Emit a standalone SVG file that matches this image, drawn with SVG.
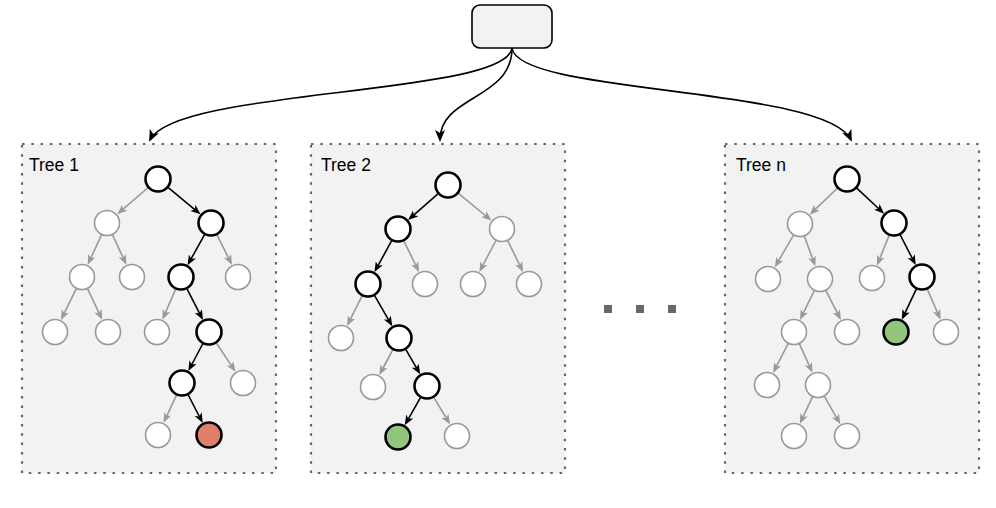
<svg xmlns="http://www.w3.org/2000/svg" width="996" height="508" viewBox="0 0 996 508">
  <defs>
    <style>
      .frame { fill: #f2f2f2; stroke: #666666; stroke-width: 2.2; stroke-dasharray: 2.5 6.8; }
      .label { font-family: "Liberation Sans", Arial, sans-serif; font-size: 17.5px; fill: #000000; }
      .n-on { fill: #ffffff; stroke: #000000; stroke-width: 2.6; }
      .n-off { fill: #ffffff; stroke: #999999; stroke-width: 1.6; }
      .leaf-red { fill: #e07e6b; stroke: #000000; stroke-width: 2.6; }
      .leaf-green { fill: #93c47d; stroke: #000000; stroke-width: 2.6; }
      .e-on { stroke: #000000; stroke-width: 1.6; fill: none; marker-end: url(#tipBlack); }
      .e-off { stroke: #999999; stroke-width: 1.6; fill: none; marker-end: url(#tipGray); }
      .feed { stroke: #000000; stroke-width: 1.6; fill: none; marker-end: url(#tipBig); }
    </style>
    <marker id="tipBlack" markerUnits="userSpaceOnUse" markerWidth="12" markerHeight="10" refX="6" refY="4" orient="auto">
      <path d="M0,0 L10,4 L0,8 L2.5,4 Z" fill="#000000"/>
    </marker>
    <marker id="tipGray" markerUnits="userSpaceOnUse" markerWidth="12" markerHeight="10" refX="6" refY="4" orient="auto">
      <path d="M0,0 L10,4 L0,8 L2.5,4 Z" fill="#999999"/>
    </marker>
    <marker id="tipBig" markerUnits="userSpaceOnUse" markerWidth="14" markerHeight="12" refX="10" refY="5" orient="auto">
      <path d="M0,0 L12,5 L0,10 L3,5 Z" fill="#000000"/>
    </marker>
  </defs>

  <!-- tree frames -->
  <g id="tree1-frame">
    <rect class="frame" x="22" y="144" width="254" height="329"/>
    <text class="label" x="29" y="171">Tree 1</text>
  </g>
  <g id="tree2-frame">
    <rect class="frame" x="311" y="144" width="254" height="329"/>
    <text class="label" x="321" y="171">Tree 2</text>
  </g>
  <g id="treen-frame">
    <rect class="frame" x="725" y="144" width="254" height="329"/>
    <text class="label" x="736" y="171">Tree n</text>
  </g>

  <!-- input box -->
  <g id="input">
    <rect x="472" y="5" width="80" height="43" rx="8" ry="8" fill="#f2f2f2" stroke="#000000" stroke-width="1.6"/>
  </g>

  <!-- ellipsis between trees -->
  <g id="ellipsis">
    <path d="M604,309 L676,309" stroke="#666666" stroke-width="8" stroke-dasharray="8 24"/>
  </g>

  <g id="connectors">
    <!-- input to each tree -->
    <path class="feed" d="M512,48 C506,96 175,88 150,140"/>
    <path class="feed" d="M512,48 C512,100 440,95 440,140"/>
    <path class="feed" d="M512,48 C518,95 826,86 851,140"/>

    <!-- tree 1 -->
    <line class="e-off" x1="148.2" y1="187.5" x2="120.2" y2="211.6"/>
    <line class="e-on" x1="168.0" y1="187.3" x2="197.5" y2="211.8"/>
    <line class="e-off" x1="101.5" y1="234.8" x2="89.4" y2="261.1"/>
    <line class="e-off" x1="112.5" y1="234.8" x2="124.7" y2="261.1"/>
    <line class="e-on" x1="204.7" y1="234.4" x2="189.5" y2="261.7"/>
    <line class="e-off" x1="216.8" y1="234.6" x2="230.2" y2="261.3"/>
    <line class="e-off" x1="76.3" y1="288.7" x2="62.7" y2="316.3"/>
    <line class="e-off" x1="87.6" y1="288.8" x2="100.5" y2="316.2"/>
    <line class="e-off" x1="175.8" y1="288.9" x2="164.0" y2="316.0"/>
    <line class="e-on" x1="186.9" y1="288.6" x2="201.1" y2="316.4"/>
    <line class="e-on" x1="202.9" y1="343.5" x2="190.2" y2="367.5"/>
    <line class="e-off" x1="216.2" y1="342.8" x2="233.3" y2="368.4"/>
    <line class="e-off" x1="176.6" y1="394.8" x2="165.3" y2="419.1"/>
    <line class="e-on" x1="188.0" y1="394.5" x2="200.9" y2="419.5"/>

    <!-- tree 2 -->
    <line class="e-on" x1="438.2" y1="193.6" x2="411.1" y2="217.4"/>
    <line class="e-off" x1="458.1" y1="193.2" x2="488.4" y2="218.0"/>
    <line class="e-on" x1="391.8" y1="240.4" x2="376.4" y2="268.6"/>
    <line class="e-off" x1="403.7" y1="240.7" x2="417.3" y2="268.3"/>
    <line class="e-off" x1="495.9" y1="240.5" x2="481.2" y2="268.5"/>
    <line class="e-off" x1="507.7" y1="240.7" x2="521.3" y2="268.3"/>
    <line class="e-off" x1="362.2" y1="295.6" x2="348.8" y2="322.4"/>
    <line class="e-on" x1="374.5" y1="295.3" x2="390.3" y2="322.8"/>
    <line class="e-off" x1="392.9" y1="349.5" x2="381.2" y2="371.5"/>
    <line class="e-on" x1="405.6" y1="349.2" x2="418.2" y2="370.9"/>
    <line class="e-on" x1="420.6" y1="397.3" x2="406.7" y2="421.8"/>
    <line class="e-off" x1="433.7" y1="397.1" x2="448.0" y2="421.0"/>

    <!-- tree n -->
    <line class="e-off" x1="837.6" y1="188.0" x2="812.6" y2="211.9"/>
    <line class="e-on" x1="856.5" y1="187.9" x2="881.2" y2="211.0"/>
    <line class="e-off" x1="793.5" y1="235.2" x2="776.8" y2="263.9"/>
    <line class="e-off" x1="804.4" y1="236.2" x2="814.0" y2="262.6"/>
    <line class="e-off" x1="889.2" y1="235.1" x2="878.5" y2="261.8"/>
    <line class="e-on" x1="900.0" y1="234.5" x2="913.9" y2="261.5"/>
    <line class="e-off" x1="814.3" y1="290.7" x2="801.7" y2="316.3"/>
    <line class="e-off" x1="825.9" y1="290.6" x2="839.1" y2="316.4"/>
    <line class="e-on" x1="916.4" y1="288.8" x2="903.5" y2="316.2"/>
    <line class="e-off" x1="927.2" y1="288.9" x2="939.0" y2="316.0"/>
    <line class="e-off" x1="788.1" y1="343.6" x2="774.9" y2="369.4"/>
    <line class="e-off" x1="799.4" y1="343.8" x2="810.8" y2="369.1"/>
    <line class="e-off" x1="812.5" y1="396.8" x2="801.5" y2="420.2"/>
    <line class="e-off" x1="824.4" y1="396.3" x2="838.4" y2="420.8"/>
  </g>

  <!-- tree 1 nodes -->
  <g id="t1-root"><circle class="n-on" cx="158" cy="179" r="12.5"/></g>
  <g id="t1-a"><circle class="n-off" cx="107" cy="223" r="12.5"/></g>
  <g id="t1-b"><circle class="n-on" cx="211" cy="223" r="12.5"/></g>
  <g id="t1-c"><circle class="n-off" cx="82" cy="277" r="12.5"/></g>
  <g id="t1-d"><circle class="n-off" cx="132" cy="277" r="12.5"/></g>
  <g id="t1-e"><circle class="n-on" cx="181" cy="277" r="12.5"/></g>
  <g id="t1-f"><circle class="n-off" cx="238" cy="277" r="12.5"/></g>
  <g id="t1-g"><circle class="n-off" cx="55" cy="332" r="12.5"/></g>
  <g id="t1-h"><circle class="n-off" cx="108" cy="332" r="12.5"/></g>
  <g id="t1-i"><circle class="n-off" cx="157" cy="332" r="12.5"/></g>
  <g id="t1-j"><circle class="n-on" cx="209" cy="332" r="12.5"/></g>
  <g id="t1-k"><circle class="n-on" cx="182" cy="383" r="12.5"/></g>
  <g id="t1-l"><circle class="n-off" cx="243" cy="383" r="12.5"/></g>
  <g id="t1-m"><circle class="n-off" cx="158" cy="435" r="12.5"/></g>
  <g id="t1-leaf"><circle class="leaf-red" cx="209" cy="435" r="12.5"/></g>

  <!-- tree 2 nodes -->
  <g id="t2-root"><circle class="n-on" cx="448" cy="185" r="12.5"/></g>
  <g id="t2-a"><circle class="n-on" cx="398" cy="229" r="12.5"/></g>
  <g id="t2-b"><circle class="n-off" cx="502" cy="229" r="12.5"/></g>
  <g id="t2-c"><circle class="n-on" cx="368" cy="284" r="12.5"/></g>
  <g id="t2-d"><circle class="n-off" cx="425" cy="284" r="12.5"/></g>
  <g id="t2-e"><circle class="n-off" cx="473" cy="284" r="12.5"/></g>
  <g id="t2-f"><circle class="n-off" cx="529" cy="284" r="12.5"/></g>
  <g id="t2-g"><circle class="n-off" cx="341" cy="338" r="12.5"/></g>
  <g id="t2-h"><circle class="n-on" cx="399" cy="338" r="12.5"/></g>
  <g id="t2-i"><circle class="n-off" cx="373" cy="387" r="12.5"/></g>
  <g id="t2-j"><circle class="n-on" cx="427" cy="386" r="12.5"/></g>
  <g id="t2-leaf"><circle class="leaf-green" cx="398" cy="437" r="12.5"/></g>
  <g id="t2-l"><circle class="n-off" cx="457" cy="436" r="12.5"/></g>

  <!-- tree n nodes -->
  <g id="tn-root"><circle class="n-on" cx="847" cy="179" r="12.5"/></g>
  <g id="tn-a"><circle class="n-off" cx="800" cy="224" r="12.5"/></g>
  <g id="tn-b"><circle class="n-on" cx="894" cy="223" r="12.5"/></g>
  <g id="tn-c"><circle class="n-off" cx="768" cy="279" r="12.5"/></g>
  <g id="tn-d"><circle class="n-off" cx="820" cy="279" r="12.5"/></g>
  <g id="tn-e"><circle class="n-off" cx="872" cy="278" r="12.5"/></g>
  <g id="tn-f"><circle class="n-on" cx="922" cy="277" r="12.5"/></g>
  <g id="tn-g"><circle class="n-off" cx="794" cy="332" r="12.5"/></g>
  <g id="tn-h"><circle class="n-off" cx="847" cy="332" r="12.5"/></g>
  <g id="tn-leaf"><circle class="leaf-green" cx="896" cy="332" r="12.5"/></g>
  <g id="tn-j"><circle class="n-off" cx="946" cy="332" r="12.5"/></g>
  <g id="tn-k"><circle class="n-off" cx="767" cy="385" r="12.5"/></g>
  <g id="tn-l"><circle class="n-off" cx="818" cy="385" r="12.5"/></g>
  <g id="tn-m"><circle class="n-off" cx="794" cy="436" r="12.5"/></g>
  <g id="tn-n"><circle class="n-off" cx="847" cy="436" r="12.5"/></g>
</svg>
